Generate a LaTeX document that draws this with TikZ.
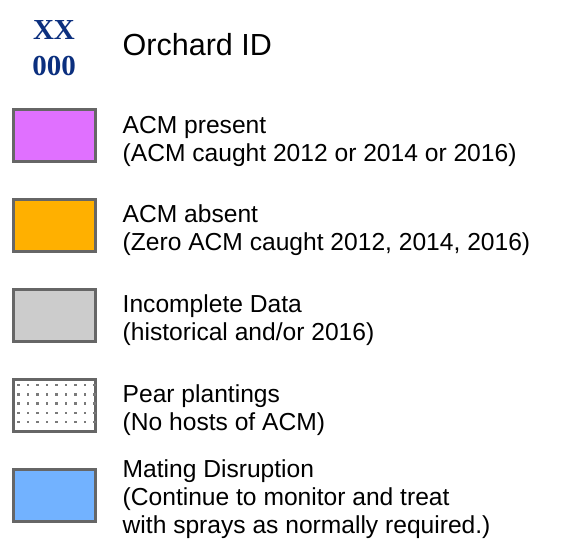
\documentclass[tikz,border=0pt]{standalone}
\usepackage{fontspec}
\setmainfont{Liberation Sans}
\newfontfamily\idfont{Liberation Serif}
\definecolor{boxgray}{HTML}{666666}
\definecolor{idblue}{HTML}{0B2F7E}
\definecolor{acmpurple}{HTML}{E070FF}
\definecolor{acmorange}{HTML}{FFB000}
\definecolor{nodata}{HTML}{CCCCCC}
\definecolor{mdblue}{HTML}{72B2FF}
\definecolor{dotgray}{HTML}{7A7A7A}
\tikzset{
  legbox/.style={draw=boxgray,line width=3pt},
  legtext/.style={anchor=base west,inner sep=0pt,align=left,
    font=\fontsize{24.6}{28}\selectfont},
  idtext/.style={anchor=base,inner sep=0pt,text=idblue,
    font=\idfont\bfseries\fontsize{29}{32}\selectfont}
}
\begin{document}
\begin{tikzpicture}[x=1pt,y=-1pt]
\useasboundingbox (0,0) rectangle (572,550);
% orchard id
\node[idtext] (idtop) at (54,39) {XX};
\node[idtext] (idbot) at (54,75) {000};
\node[anchor=base west,inner sep=0pt,font=\fontsize{30.5}{32}\selectfont] (idlabel) at (122.5,55) {Orchard ID};
% boxes
\draw[legbox,fill=acmpurple] (13.5,109.5) rectangle (95.5,161.5);
\draw[legbox,fill=acmorange] (13.5,199.5) rectangle (95.5,251.5);
\draw[legbox,fill=nodata] (13.5,289.5) rectangle (95.5,341.5);
\draw[legbox,fill=white] (13.5,379.5) rectangle (95.5,431.5);
\foreach \i in {0,...,8}
  \foreach \j in {0,...,4}
    \fill[dotgray] (18.3+9.5*\i-1.2,385+9.3*\j-1.2) rectangle ++(2.4,2.4);
\draw[legbox,fill=mdblue] (13.5,469.5) rectangle (95.5,521.5);
% labels (base = last line)
\node[legtext] (present) at (122.5,161) {ACM present\\(ACM caught 2012 or 2014 or 2016)};
\node[legtext] (absent) at (122.5,250) {ACM absent\\(Zero ACM caught 2012, 2014, 2016)};
\node[legtext] (incomplete) at (122.5,340) {Incomplete Data\\(historical and/or 2016)};
\node[legtext] (pear) at (122.5,430) {Pear plantings\\(No hosts of ACM)};
\node[legtext] (mating) at (122.5,533) {Mating Disruption\\(Continue to monitor and treat\\with sprays as normally required.)};
\end{tikzpicture}
\end{document}
